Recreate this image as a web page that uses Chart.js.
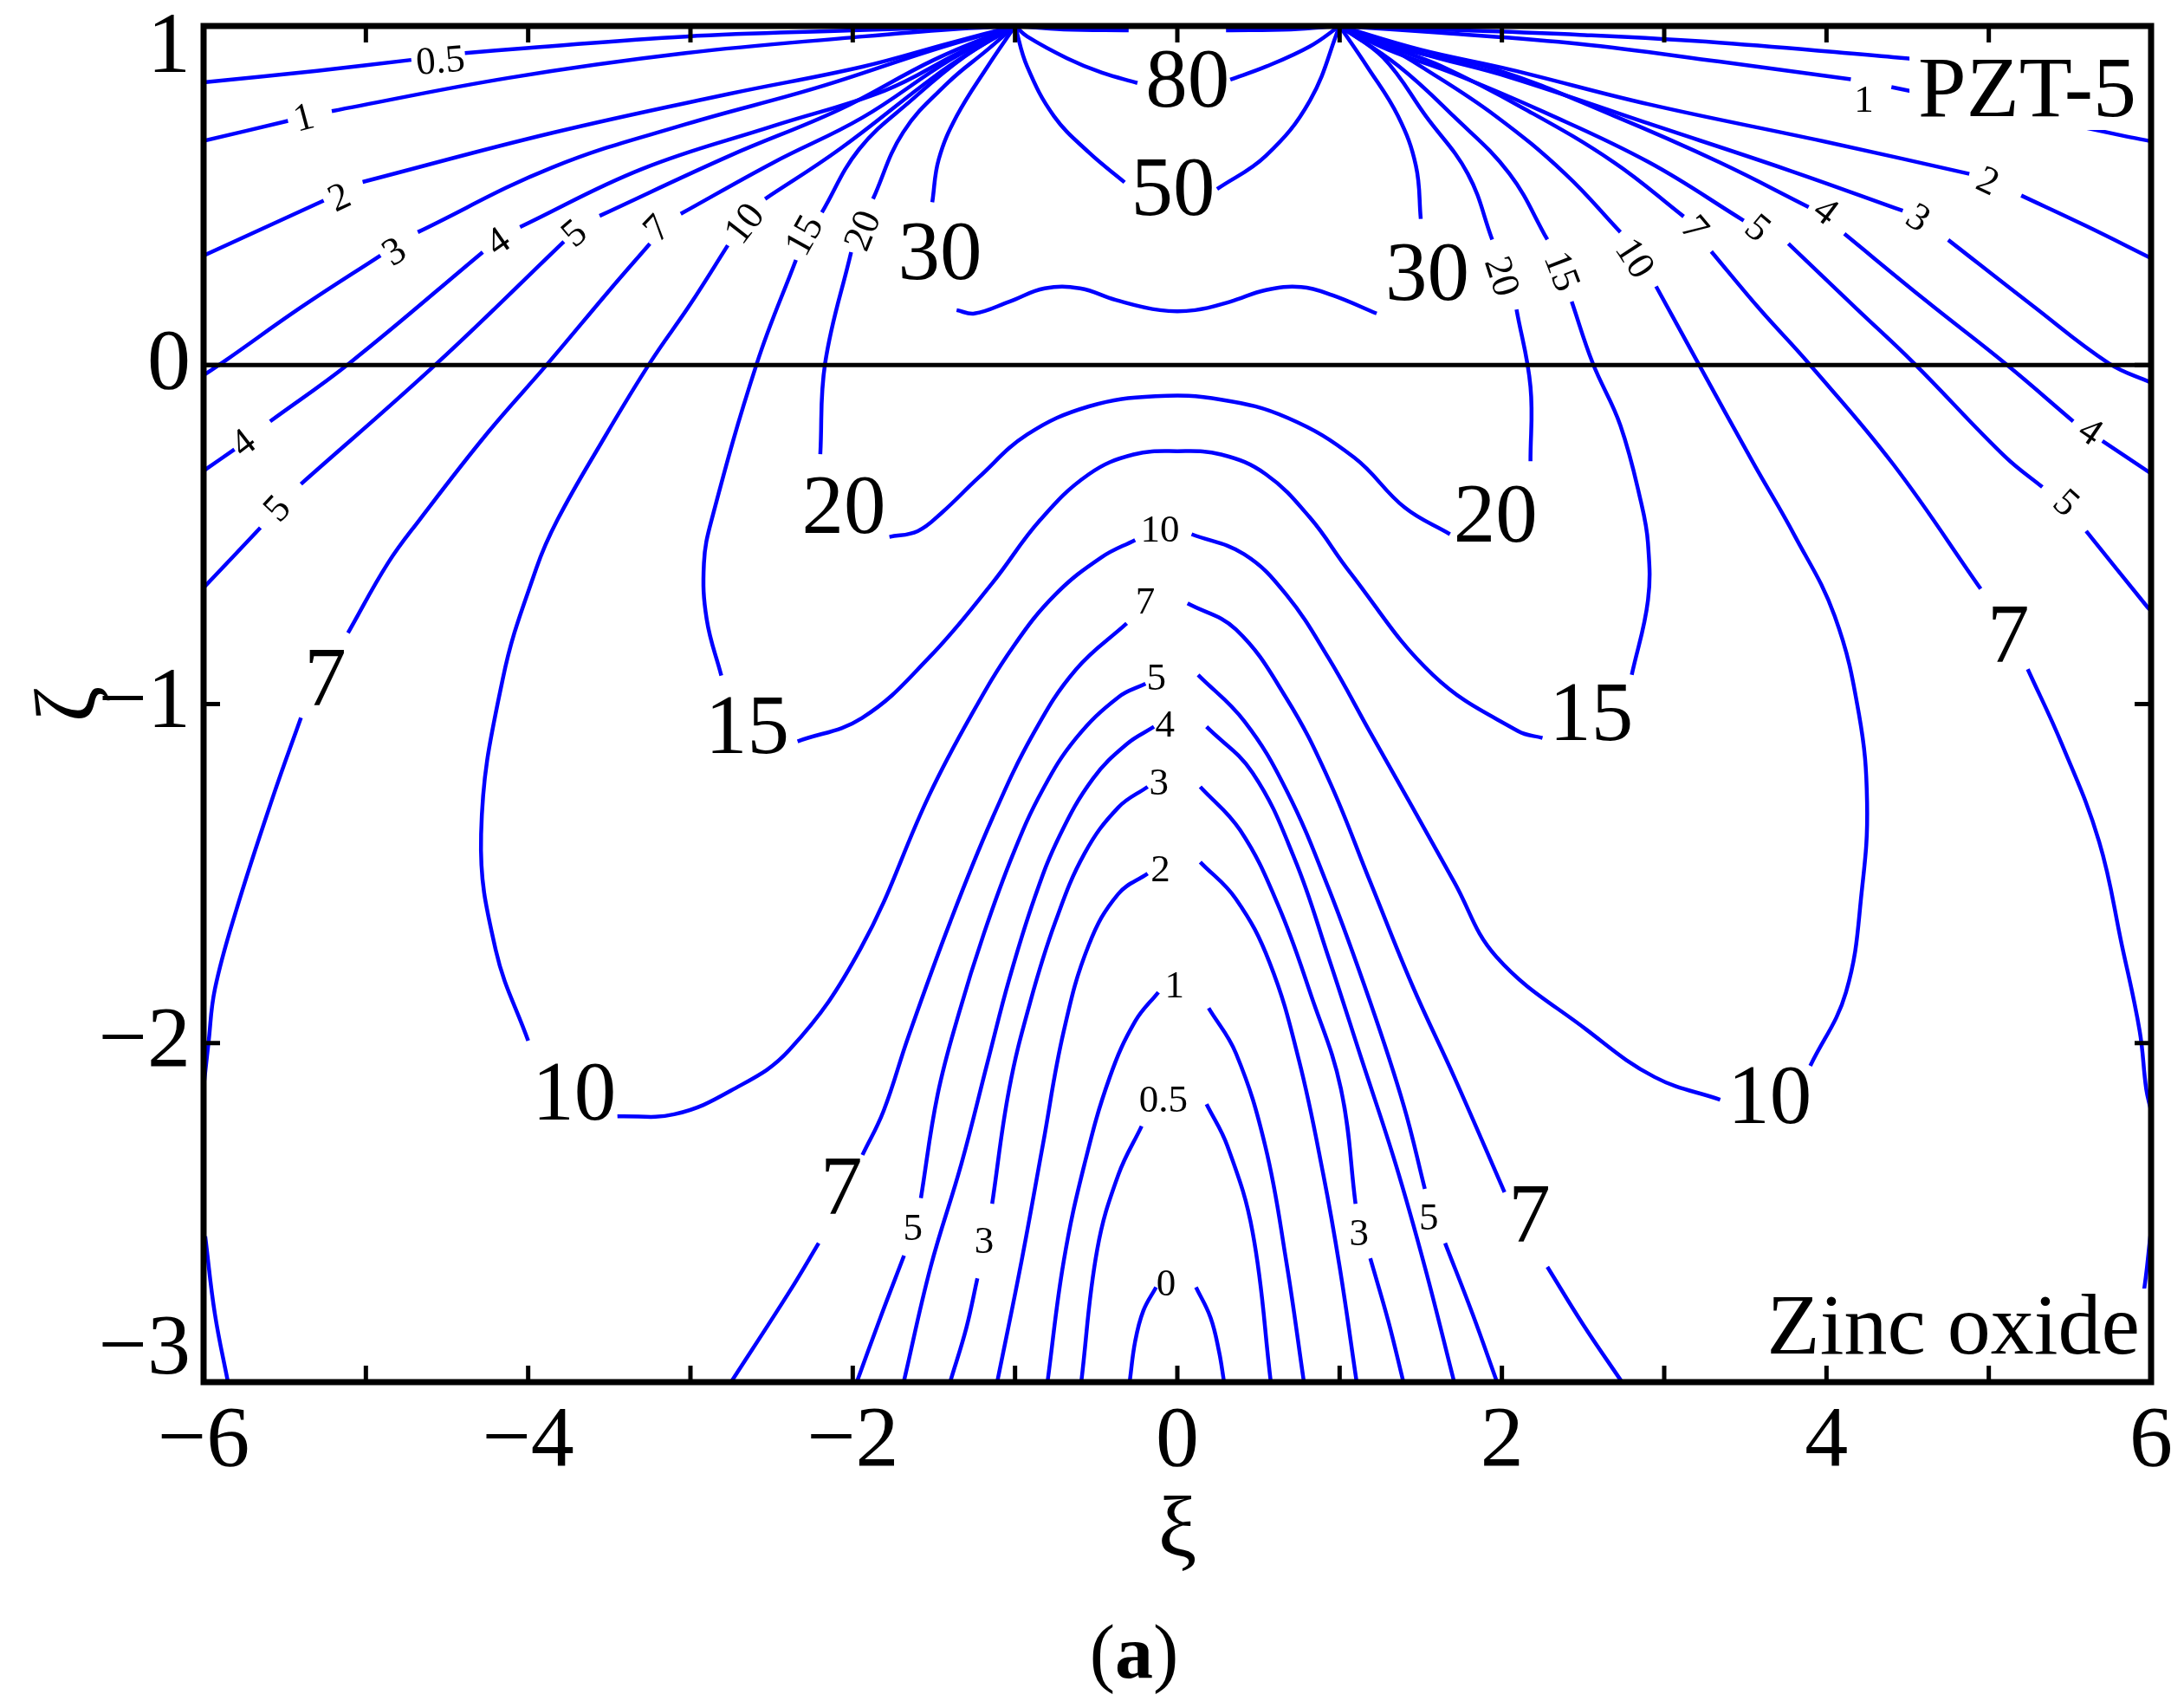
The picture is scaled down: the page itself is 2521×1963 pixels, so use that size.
<!DOCTYPE html>
<html><head><meta charset="utf-8">
<script src="https://cdn.jsdelivr.net/npm/chart.js@4.4.1/dist/chart.umd.min.js"></script>
<style>html,body{margin:0;padding:0;background:#fff;}canvas{display:block;}</style>
</head><body>
<canvas id="c" width="2521" height="1963" style="width:2521px;height:1963px"></canvas>
<script>
// ---------------- data ----------------
const xTickValues = [-6, -4, -2, 0, 2, 4, 6];
const yTickValues = [1, 0, -1, -2, -3];
const xTickMarks = [-5, -4, -3, -2, -1, 0, 1, 2, 3, 4, 5];
const yTickMarks = [0, -1, -2];
const zeroLine = [[-6, 0], [6, 0]];

const c0 = [
  [[-0.294,-3.0],[-0.26,-2.88],[-0.21,-2.79],[-0.131,-2.72]],
  [[0.115,-2.72],[0.205,-2.81],[0.257,-2.91],[0.288,-3.0]]
];
const c05 = [
  [[-6,0.834],[-5.3,0.868],[-4.72,0.90]],
  [[-4.39,0.92],[-4.01,0.935],[-3.03,0.969],[-2.0,0.987],[-1.4,0.996],[-1,1]],
  [[1,1],[1.6,0.99],[2.48,0.974],[3.34,0.951],[4.41,0.908],[5.2,0.875],[6,0.837]],
  [[-0.592,-3.0],[-0.494,-2.61],[-0.364,-2.389],[-0.22,-2.245]],
  [[0.18,-2.18],[0.309,-2.304],[0.464,-2.558],[0.576,-3.0]]
];
const c1 = [
  [[-6,0.661],[-5.48,0.72]],
  [[-5.21,0.749],[-4.12,0.847],[-3.03,0.92],[-1.94,0.969],[-1.4,0.99],[-1,1]],
  [[1,1],[1.62,0.98],[2.48,0.947],[3.34,0.895],[4.15,0.843]],
  [[4.40,0.82],[5.2,0.74],[5.82,0.677],[6,0.66]],
  [[-0.80,-3.0],[-0.70,-2.643],[-0.571,-2.355],[-0.416,-2.1],[-0.26,-1.936],[-0.117,-1.85]],
  [[0.193,-1.897],[0.361,-2.03],[0.542,-2.304],[0.671,-2.643],[0.78,-3.0]]
];
const c2 = [
  [[-6,0.323],[-5.26,0.485]],
  [[-5.02,0.54],[-3.85,0.685],[-2.76,0.80],[-1.94,0.88],[-1.4,0.95],[-1,1]],
  [[1,1],[1.5,0.93],[2.047,0.872],[2.906,0.769],[3.98,0.66],[4.88,0.564]],
  [[5.20,0.50],[5.6,0.41],[6,0.315]],
  [[-1.11,-3.0],[-0.96,-2.643],[-0.83,-2.304],[-0.70,-1.965],[-0.545,-1.71],[-0.364,-1.56],[-0.183,-1.50]],
  [[0.141,-1.466],[0.361,-1.575],[0.568,-1.762],[0.749,-2.05],[0.90,-2.389],[1.00,-2.66],[1.105,-3.0]]
];
const c3 = [
  [[-6,-0.03],[-5.86,0.015],[-5.4,0.17],[-4.91,0.323]],
  [[-4.68,0.392],[-3.85,0.583],[-3.03,0.71],[-2.22,0.818],[-1.5,0.93],[-1,1]],
  [[1,1],[1.5,0.92],[2.047,0.849],[2.906,0.712],[3.765,0.575],[4.47,0.455]],
  [[4.75,0.369],[5.27,0.175],[5.74,0.005],[6,-0.052]],
  [[-1.40,-3.0],[-1.30,-2.84],[-1.232,-2.694]],
  [[-1.141,-2.474],[-1.036,-2.135],[-0.907,-1.88],[-0.752,-1.643],[-0.571,-1.44],[-0.364,-1.305],[-0.183,-1.244]],
  [[0.141,-1.244],[0.387,-1.372],[0.62,-1.592],[0.827,-1.863],[1.008,-2.135],[1.098,-2.474]],
  [[1.189,-2.635],[1.30,-2.82],[1.393,-3.0]]
];
const c4 = [
  [[-6,-0.312],[-5.81,-0.249]],
  [[-5.59,-0.166],[-5.10,0.006],[-4.28,0.333]],
  [[-4.05,0.407],[-3.30,0.578],[-2.49,0.705],[-1.80,0.81],[-1.35,0.92],[-1,1]],
  [[1,1],[1.4,0.93],[1.96,0.872],[2.69,0.735],[3.34,0.598],[3.89,0.466]],
  [[4.11,0.387],[4.62,0.187],[5.10,0.005],[5.52,-0.166]],
  [[5.70,-0.224],[6,-0.32]],
  [[-1.686,-3.0],[-1.52,-2.66],[-1.33,-2.355],[-1.166,-2.05],[-1.036,-1.812],[-0.882,-1.575],[-0.726,-1.389],[-0.52,-1.22],[-0.312,-1.118],[-0.144,-1.067]],
  [[0.18,-1.067],[0.464,-1.203],[0.723,-1.457],[0.93,-1.745],[1.137,-2.05],[1.344,-2.355],[1.525,-2.66],[1.706,-3.0]]
];
const c5 = [
  [[-6,-0.657],[-5.65,-0.48]],
  [[-5.40,-0.351],[-4.56,0.006],[-3.78,0.364]],
  [[-3.56,0.44],[-2.76,0.617],[-2.08,0.754],[-1.5,0.9],[-1,1]],
  [[1,1],[1.3,0.93],[1.70,0.86],[2.26,0.746],[2.906,0.598],[3.49,0.426]],
  [[3.765,0.358],[4.19,0.164],[4.54,0.005],[5.10,-0.27],[5.33,-0.36]],
  [[5.60,-0.49],[5.976,-0.713],[6.0,-0.725]],
  [[-1.975,-3.0],[-1.83,-2.81],[-1.684,-2.627]],
  [[-1.58,-2.457],[-1.477,-2.152],[-1.347,-1.914],[-1.192,-1.677],[-1.01,-1.44],[-0.83,-1.253],[-0.623,-1.10],[-0.364,-0.98],[-0.196,-0.94]],
  [[0.128,-0.914],[0.412,-1.05],[0.671,-1.253],[0.93,-1.541],[1.189,-1.88],[1.396,-2.186],[1.525,-2.43]],
  [[1.65,-2.59],[1.82,-2.80],[1.97,-3.0]]
];
const c7 = [
  [[-6.0,-2.13],[-5.97,-2.0],[-5.93,-1.84],[-5.80,-1.61],[-5.57,-1.27],[-5.40,-1.04]],
  [[-5.11,-0.79],[-4.865,-0.585],[-4.67,-0.457],[-4.25,-0.2],[-3.876,0.006],[-3.50,0.22],[-3.25,0.358]],
  [[-3.06,0.446],[-2.49,0.597],[-1.94,0.73],[-1.4,0.9],[-1,1]],
  [[-5.99,-2.57],[-5.93,-2.8],[-5.85,-3.0]],
  [[1,1],[1.3,0.94],[1.62,0.883],[2.13,0.758],[2.69,0.598],[3.12,0.438]],
  [[3.29,0.335],[3.59,0.164],[3.89,0.005],[4.41,-0.292],[4.95,-0.66]],
  [[5.24,-0.897],[5.45,-1.118],[5.68,-1.406],[5.82,-1.711],[5.93,-1.965],[5.97,-2.135],[6.0,-2.2]],
  [[6.0,-2.55],[5.95,-2.75],[5.85,-3.0]],
  [[-2.75,-3.0],[-2.386,-2.73],[-2.21,-2.59]],
  [[-1.94,-2.33],[-1.81,-2.2],[-1.658,-1.982],[-1.40,-1.643],[-1.141,-1.338],[-0.882,-1.083],[-0.623,-0.897],[-0.312,-0.762]],
  [[0.063,-0.703],[0.361,-0.78],[0.671,-0.982],[0.93,-1.22],[1.189,-1.525],[1.448,-1.83],[1.706,-2.10],[2.016,-2.44]],
  [[2.28,-2.66],[2.50,-2.83],[2.74,-3.0]]
];
const c10 = [
  [[-1,1],[-1.25,0.93],[-1.5,0.85],[-2.08,0.637],[-2.54,0.49]],
  [[-2.77,0.353],[-3.0,0.18],[-3.25,0.006],[-3.55,-0.23],[-3.82,-0.457],[-3.95,-0.6],[-4.157,-0.927],[-4.29,-1.384],[-4.2,-1.725],[-4.0,-1.993]],
  [[-3.45,-2.216],[-3.10,-2.21],[-2.75,-2.14],[-2.39,-2.02],[-1.95,-1.72],[-1.53,-1.27],[-1.27,-1.033],[-1.01,-0.83],[-0.752,-0.677],[-0.467,-0.567],[-0.26,-0.516]],
  [[0.088,-0.499],[0.412,-0.558],[0.671,-0.677],[0.93,-0.863],[1.189,-1.084],[1.448,-1.304],[1.706,-1.525],[1.965,-1.745],[2.52,-1.96],[2.94,-2.10],[3.345,-2.167]],
  [[3.90,-2.067],[4.12,-1.85],[4.22,-1.54],[4.25,-1.29],[4.2,-1.03],[4.05,-0.74],[3.80,-0.50],[3.55,-0.29],[3.21,0.005],[2.95,0.232]],
  [[2.73,0.392],[2.39,0.564],[1.96,0.735],[1.53,0.872],[1.25,0.95],[1,1]]
];
const c15 = [
  [[-1,1],[-1.31,0.91],[-1.634,0.783],[-1.96,0.637],[-2.19,0.45]],
  [[-2.35,0.31],[-2.59,0.006],[-2.87,-0.457],[-2.917,-0.585],[-2.90,-0.75],[-2.81,-0.916]],
  [[-2.34,-1.11],[-1.943,-1.041],[-1.53,-0.863],[-1.14,-0.643],[-0.845,-0.457],[-0.545,-0.322],[-0.27,-0.264],[0,-0.254],[0.27,-0.264],[0.545,-0.322],[0.817,-0.45],[1.06,-0.609],[1.575,-0.914],[2.10,-1.08],[2.25,-1.10]],
  [[2.80,-0.914],[2.90,-0.694],[2.90,-0.525],[2.86,-0.41],[2.73,-0.178],[2.56,0.005],[2.43,0.187]],
  [[2.28,0.37],[2.047,0.564],[1.70,0.735],[1.36,0.883],[1,1]]
];
const c20 = [
  [[-1,1],[-1.17,0.93],[-1.415,0.832],[-1.69,0.686],[-1.875,0.49]],
  [[-2.01,0.333],[-2.17,0.006],[-2.20,-0.263]],
  [[-1.774,-0.507],[-1.60,-0.49],[-1.45,-0.435],[-1.225,-0.332],[-0.925,-0.205],[-0.545,-0.122],[-0.135,-0.092],[0.27,-0.102],[0.68,-0.156],[1.09,-0.273],[1.40,-0.42],[1.68,-0.499]],
  [[2.176,-0.284],[2.176,-0.064],[2.09,0.164]],
  [[1.94,0.37],[1.79,0.564],[1.53,0.735],[1.27,0.906],[1,1]]
];
const c30 = [
  [[-1,1],[-1.17,0.88],[-1.36,0.734],[-1.47,0.607],[-1.51,0.48]],
  [[-1.36,0.162],[-1.25,0.152],[-1.035,0.187],[-0.817,0.226],[-0.6,0.226],[-0.38,0.192],[-0.107,0.162],[0.11,0.162],[0.327,0.187],[0.545,0.221],[0.763,0.23],[0.955,0.206],[1.228,0.152]],
  [[1.50,0.431],[1.47,0.588],[1.36,0.734],[1.17,0.88],[1,1]]
];
const c50 = [
  [[-1,1],[-0.925,0.88],[-0.76,0.734],[-0.545,0.627],[-0.325,0.539]],
  [[0.245,0.519],[0.545,0.617],[0.817,0.78],[1,1]]
];
const c80 = [
  [[-1,1],[-0.925,0.969],[-0.68,0.905],[-0.464,0.862],[-0.246,0.832]],
  [[0.326,0.842],[0.545,0.88],[0.817,0.94],[1,1]]
];
const cTop = [
  [[-1,1],[-0.7,0.99],[-0.3,0.987]],
  [[0.3,0.987],[0.7,0.99],[1,1]]
];
const contours = [c0, c05, c1, c2, c3, c4, c5, c7, c10, c15, c20, c30, c50, c80, cTop];

// contour labels: [text, xi, zeta]
const bigLabels = [
  ['80',0.063,0.827], ['50',-0.027,0.509], ['30',-1.463,0.318], ['30',1.54,0.257],
  ['20',-2.055,-0.43], ['20',1.96,-0.455], ['15',-2.65,-1.08], ['15',2.55,-1.04],
  ['10',-3.716,-2.16], ['10',3.65,-2.17], ['7',-5.25,-0.94], ['7',5.12,-0.81],
  ['7',-2.07,-2.44], ['7',2.17,-2.52]
];
const smallLabels = [
  ['0.5',-4.54,0.893], ['1',-5.38,0.725], ['2',-5.16,0.49], ['3',-4.82,0.33], ['4',-4.18,0.36],
  ['5',-3.71,0.385], ['7',-3.20,0.40], ['10',-2.66,0.415], ['15',-2.29,0.38], ['20',-1.93,0.395],
  ['4',-5.75,-0.234], ['5',-5.54,-0.427],
  ['1',4.23,0.777], ['2',4.99,0.538], ['3',4.56,0.43], ['4',3.99,0.45], ['5',3.57,0.40],
  ['7',3.18,0.40], ['10',2.81,0.312], ['15',2.36,0.275], ['20',1.99,0.26],
  ['4',5.62,-0.20], ['5',5.47,-0.41],
  ['10',-0.107,-0.49], ['7',-0.197,-0.703], ['5',-0.13,-0.927], ['4',-0.076,-1.066], ['3',-0.113,-1.236],
  ['2',-0.104,-1.492], ['1',-0.017,-1.836], ['0.5',-0.086,-2.173], ['0',-0.07,-2.715],
  ['5',-1.63,-2.55], ['3',-1.19,-2.59], ['3',1.12,-2.565], ['5',1.55,-2.52]
];
// ---------------- styles ----------------
const smallLabelAngles = [-5,-15,-25,-32,-35,-40,-46,-52,-61,-68,-38,-47,
  0,25,33,37,40,50,57,69,72,34,42,
  0,0,0,0,0,0,0,0,0,0,0,0,0];
const yLabelShift = {'1': 27, '-3': -36};
const FONT = '"Liberation Serif","Times New Roman",serif';
const BLUE = '#0000ff';

const datasets = [{
  data: zeroLine.map(([x, y]) => ({x, y})), showLine: true, borderColor: '#000',
  borderWidth: 5, pointRadius: 0, tension: 0, order: 0
}];
contours.forEach(c => c.forEach(seg => datasets.push({
  data: seg.map(([x, y]) => ({x, y})), showLine: true, borderColor: BLUE,
  borderWidth: 4.5, pointRadius: 0, tension: 0.4, order: 1, fill: false
})));

function fmt(v) { return v < 0 ? '\u2212' + Math.abs(v) : String(v); }

function txt(ctx, t, px, py, size, angle, weight) {
  ctx.save();
  ctx.translate(px, py);
  if (angle) ctx.rotate(angle * Math.PI / 180);
  ctx.font = `${weight || ''} ${size}px ${FONT}`;
  ctx.textAlign = 'center'; ctx.textBaseline = 'middle'; ctx.fillStyle = '#000';
  ctx.fillText(t, 0, 0);
  ctx.restore();
}

const decor = {
  id: 'decor',
  afterUpdate(chart) {
    const s = chart.scales.y;
    const items = s.getLabelItems();
    items.forEach((it, i) => {
      const v = s.ticks[i] && s.ticks[i].value;
      if (yLabelShift[String(v)]) it.options.translation[1] += yLabelShift[String(v)];
    });
  },
  afterDatasetsDraw(chart) {
    const {ctx, chartArea: a, scales: {x, y}} = chart;
    ctx.save();
    bigLabels.forEach(([t, u, v]) => txt(ctx, t, x.getPixelForValue(u), y.getPixelForValue(v), 97));
    smallLabels.forEach(([t, u, v], i) => txt(ctx, t, x.getPixelForValue(u), y.getPixelForValue(v), 45, smallLabelAngles[i]));
    ctx.font = `100px ${FONT}`;
    ctx.textBaseline = 'alphabetic'; ctx.textAlign = 'right';
    let w = ctx.measureText('PZT-5').width;
    ctx.fillStyle = '#fff';
    ctx.fillRect(a.right - 17 - w - 10, a.top + 2, w + 27, 118);
    ctx.fillStyle = '#000';
    ctx.fillText('PZT-5', a.right - 17, a.top + 104);
    w = ctx.measureText('Zinc oxide').width;
    ctx.fillStyle = '#fff';
    ctx.fillRect(a.right - 13 - w - 10, a.bottom - 108, w + 23, 106);
    ctx.fillStyle = '#000';
    ctx.fillText('Zinc oxide', a.right - 13, a.bottom - 33);
    ctx.strokeStyle = '#000'; ctx.lineWidth = 5;
    ctx.beginPath();
    xTickMarks.forEach(v => {
      const p = x.getPixelForValue(v);
      ctx.moveTo(p, a.bottom); ctx.lineTo(p, a.bottom - 19);
      ctx.moveTo(p, a.top); ctx.lineTo(p, a.top + 19);
    });
    yTickMarks.forEach(v => {
      const p = y.getPixelForValue(v);
      ctx.moveTo(a.left, p); ctx.lineTo(a.left + 19, p);
      ctx.moveTo(a.right, p); ctx.lineTo(a.right - 19, p);
    });
    ctx.stroke();
    ctx.lineWidth = 7;
    ctx.strokeRect(a.left, a.top, a.right - a.left, a.bottom - a.top);
    const cx = (a.left + a.right) / 2 - 50, cy = 1913;
    ctx.textBaseline = 'middle'; ctx.textAlign = 'left';
    ctx.font = `88px ${FONT}`;
    const w1 = ctx.measureText('(').width;
    ctx.font = `bold 88px ${FONT}`;
    const w2 = ctx.measureText('a').width;
    ctx.font = `88px ${FONT}`;
    let sx = cx - (w1 * 2 + w2) / 2;
    ctx.fillText('(', sx, cy);
    ctx.font = `bold 88px ${FONT}`;
    ctx.fillText('a', sx + w1, cy);
    ctx.font = `88px ${FONT}`;
    ctx.fillText(')', sx + w1 + w2, cy);
    ctx.restore();
  }
};

function zeroPad(s) { s.paddingLeft = 0; s.paddingRight = 0; s.paddingTop = 0; s.paddingBottom = 0; }

function build() {
  new Chart(document.getElementById('c'), {
    type: 'scatter',
    data: {datasets},
    options: {
      responsive: false, animation: false, devicePixelRatio: 1,
      layout: {padding: {left: 0, top: 30, right: 38, bottom: 0}},
      plugins: {legend: {display: false}, tooltip: {enabled: false}},
      scales: {
        x: {
          type: 'linear', min: -6, max: 6, position: 'bottom',
          afterBuildTicks: s => { s.ticks = xTickValues.map(v => ({value: v})); },
          ticks: {font: {family: FONT, size: 100}, color: '#000', padding: 10, autoSkip: false, maxRotation: 0,
                  callback: v => fmt(v)},
          grid: {display: false, drawTicks: false}, border: {display: false},
          title: {display: true, text: 'ξ', color: '#000', font: {family: FONT, size: 100}, padding: {top: 0, bottom: 134}},
          afterFit: s => { s.height = 368; zeroPad(s); }
        },
        y: {
          type: 'linear', min: -3, max: 1, position: 'left',
          afterBuildTicks: s => { s.ticks = yTickValues.map(v => ({value: v})); },
          ticks: {font: {family: FONT, size: 100}, color: '#000', padding: 15, autoSkip: false,
                  callback: v => fmt(v)},
          grid: {display: false, drawTicks: false}, border: {display: false},
          title: {display: true, text: 'ζ', color: '#000', font: {family: FONT, size: 100, lineHeight: 1}, padding: {top: 33, bottom: 0}},
          afterFit: s => { s.width = 235; zeroPad(s); }
        }
      }
    },
    plugins: [decor]
  });
}
const fl = document.fonts ? Promise.all([
  document.fonts.load(`100px ${FONT}`), document.fonts.load(`bold 88px ${FONT}`)
]).catch(() => {}) : Promise.resolve();
fl.then(build, build);
</script>
</body></html>
